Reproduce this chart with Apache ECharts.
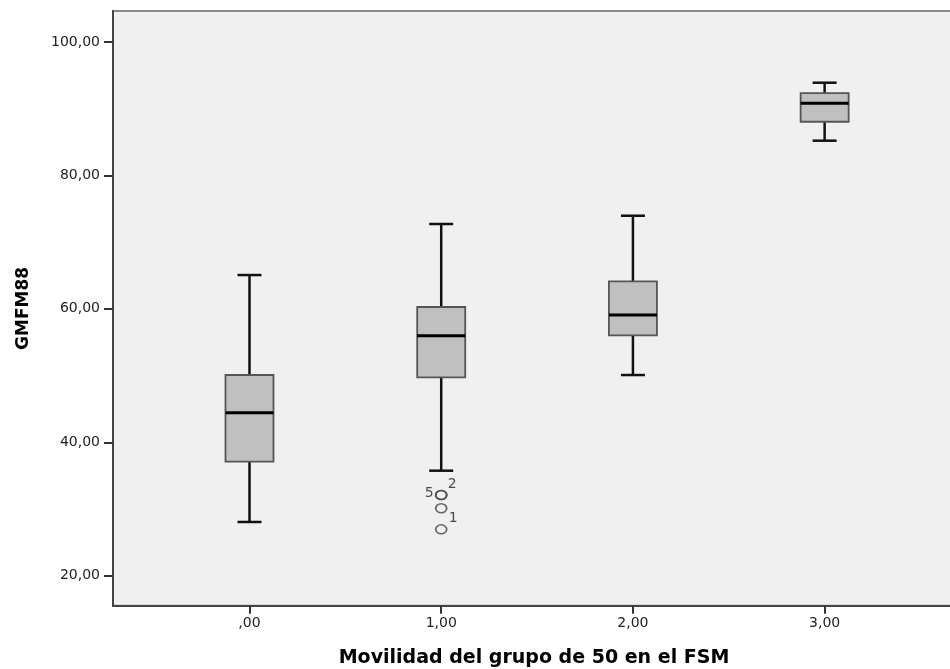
<!DOCTYPE html>
<html>
<head>
<meta charset="utf-8">
<script src="https://cdn.jsdelivr.net/npm/echarts@6/dist/echarts.min.js"></script>
<style>html,body{margin:0;padding:0;background:#fff}#c{width:950px;height:669px}</style>
</head>
<body>
<div id="c"></div>
<script>
// Categories (x positions) and their tick labels
var categories = [0, 1, 2, 3];
var categoryLabels = [',00', '1,00', '2,00', '3,00'];
// Boxplot statistics per category
var whiskerLow  = [28.05, 35.74, 50.08, 85.21];
var q1          = [37.09, 49.74, 56.03, 88.05];
var median      = [44.43, 55.97, 59.08, 90.81];
var q3          = [50.08, 60.28, 64.13, 92.35];
var whiskerHigh = [65.07, 72.72, 73.96, 93.90];
// Outliers (category, value, case label)
var outlierX      = [1, 1, 1, 1];
var outlierValues = [32.1, 32.1, 30.1, 26.95];
var outlierLabels = ['5', '2', '', '1'];
// Y tick values
var yTicks = [20, 40, 60, 80, 100];

var boxData = categories.map(function (c, i) {
  return [c, whiskerLow[i], q1[i], median[i], q3[i], whiskerHigh[i]];
});
var labelPos = { '5': [-12, -2], '2': [11, -11], '1': [12, -11], '': [0, 0] };
var outlierData = outlierX.map(function (x, i) {
  var lab = outlierLabels[i];
  return {
    value: [x, outlierValues[i]],
    label: {
      show: lab !== '',
      formatter: lab,
      position: 'inside',
      offset: labelPos[lab]
    }
  };
});

function fmt(v) {
  var s = v.toFixed(2).replace('.', ',');
  return s.indexOf('0,') === 0 ? s.slice(1) : s;
}

var chart = echarts.init(document.getElementById('c'), null, { renderer: 'canvas' });
var FONT = 'DejaVu Sans';
chart.setOption({
  animation: false,
  backgroundColor: '#ffffff',
  grid: {
    left: 113, right: -5, top: 11, bottom: 63.3,
    outerBoundsMode: 'none',
    containLabel: false,
    show: true, backgroundColor: '#f0f0f0', borderColor: '#8a8a8a', borderWidth: 2
  },
  xAxis: {
    type: 'value',
    min: -0.712, max: 3.68,
    name: 'Movilidad del grupo de 50 en el FSM',
    nameLocation: 'middle',
    nameGap: 43,
    nameTextStyle: { fontFamily: FONT, fontWeight: 'bold', fontSize: 19, color: '#000' },
    axisLine: { show: true, onZero: false, lineStyle: { color: '#444', width: 2 } },
    axisTick: { show: true, length: 8, customValues: categories, lineStyle: { color: '#333', width: 2 } },
    axisLabel: {
      customValues: categories,
      formatter: function (v) { return categoryLabels[categories.indexOf(v)] || ''; },
      fontFamily: FONT, fontSize: 14, color: '#222', margin: 11
    },
    splitLine: { show: false }
  },
  yAxis: {
    type: 'value',
    min: 15.5, max: 104.65,
    name: 'GMFM88',
    nameLocation: 'middle',
    nameGap: 81,
    nameRotate: 90,
    nameTextStyle: { fontFamily: FONT, fontWeight: 'bold', fontSize: 17, color: '#000' },
    axisLine: { show: true, onZero: false, lineStyle: { color: '#444', width: 2 } },
    axisTick: { show: true, length: 9, customValues: yTicks, lineStyle: { color: '#333', width: 2 } },
    axisLabel: {
      customValues: yTicks,
      formatter: fmt,
      fontFamily: FONT, fontSize: 14, color: '#222', margin: 13
    },
    splitLine: { show: false }
  },
  series: [
    {
      type: 'custom',
      data: boxData,
      encode: { x: 0, y: [1, 2, 3, 4, 5] },
      renderItem: function (params, api) {
        var x = api.value(0);
        var pLow = api.coord([x, api.value(1)]);
        var pQ1 = api.coord([x, api.value(2)]);
        var pMed = api.coord([x, api.value(3)]);
        var pQ3 = api.coord([x, api.value(4)]);
        var pHigh = api.coord([x, api.value(5)]);
        var cx = pMed[0];
        var bw = 48, cw = 24;
        var wStyle = { stroke: '#111', lineWidth: 2.5 };
        return {
          type: 'group',
          children: [
            { type: 'line', shape: { x1: cx, y1: pHigh[1], x2: cx, y2: pQ3[1] }, style: wStyle },
            { type: 'line', shape: { x1: cx, y1: pQ1[1], x2: cx, y2: pLow[1] }, style: wStyle },
            { type: 'line', shape: { x1: cx - cw / 2, y1: pHigh[1], x2: cx + cw / 2, y2: pHigh[1] }, style: wStyle },
            { type: 'line', shape: { x1: cx - cw / 2, y1: pLow[1], x2: cx + cw / 2, y2: pLow[1] }, style: wStyle },
            { type: 'rect', shape: { x: cx - bw / 2, y: pQ3[1], width: bw, height: pQ1[1] - pQ3[1] },
              style: { fill: '#c0c0c0', stroke: '#555', lineWidth: 1.8 } },
            { type: 'line', shape: { x1: cx - bw / 2, y1: pMed[1], x2: cx + bw / 2, y2: pMed[1] },
              style: { stroke: '#000', lineWidth: 3 } }
          ]
        };
      }
    },
    {
      type: 'scatter',
      data: outlierData,
      symbol: 'circle',
      symbolSize: [11, 9],
      itemStyle: { color: 'rgba(0,0,0,0)', borderColor: '#444', borderWidth: 1.6 },
      label: { fontFamily: FONT, fontSize: 14, color: '#222' }
    }
  ]
});
</script>
</body>
</html>
